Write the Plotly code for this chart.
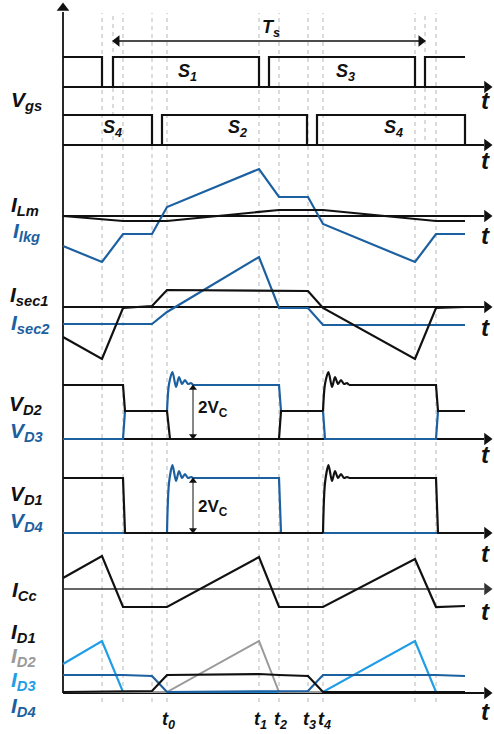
import plotly.graph_objects as go

# ---------------- data (time in px-like units from the vertical axis) ----------------
EVENTS = [39, 60, 89, 104, 196, 216, 245, 260, 352, 373]      # dashed guide lines
TOP_EVENTS = [50, 362]                                         # Ts limits (top only)
T_END = 402
TICK_TIMES = [104, 196, 216, 245, 260]
TICK_LABELS = ["t<sub>0</sub>", "t<sub>1</sub>", "t<sub>2</sub>", "t<sub>3</sub>", "t<sub>4</sub>"]

S13_T = [0, 39, 39, 50, 50, 196, 196, 206, 206, 352, 352, 362, 362, 402]
S13_V = [30, 30, 0, 0, 30, 30, 0, 0, 30, 30, 0, 0, 30, 30]
S24_T = [0, 89, 89, 99, 99, 244, 244, 254, 254, 402, 402]
S24_V = [30, 30, 0, 0, 30, 30, 0, 0, 30, 30, 0]
GATE_LABELS = ["S<sub>1</sub>", "S<sub>3</sub>", "S<sub>4</sub>", "S<sub>2</sub>", "S<sub>4</sub>"]
GATE_LABEL_T = [124, 282, 49, 174, 330]

ILM_T = [0, 60, 104, 216, 260, 373, 402]
ILM_V = [0, -5, -5, 6, 6, -5, -5]
ILKG_T = [0, 39, 60, 89, 104, 196, 216, 245, 260, 352, 373, 402]
ILKG_V = [-30, -46, -18, -18, 9, 47, 19, 19, -8, -46, -18, -18]

ISEC1_T = [0, 39, 60, 89, 104, 245, 260, 352, 373, 402]
ISEC1_V = [-30, -52, -1, 1, 17, 16, -1, -52, -1, 0]
ISEC2_T = [0, 89, 104, 196, 216, 245, 260, 402]
ISEC2_V = [-17, -17, -5, 50, -1, -1, -18, -18]

RING_A_T = [104, 106, 109.5, 113, 116, 119, 122, 125, 128, 130]
RING_B_T = [260, 262, 265.5, 269, 272, 275, 278, 281, 284, 286]
VD3_PRE_T, VD3_PRE_V = [0, 60, 62, 104], [0, 0, 28, 28]
VD3_RING_V = [28, 55, 67, 52, 62, 55, 59, 55, 56, 54]
VD3_POST_T, VD3_POST_V = [130, 216, 218, 260, 262, 373, 375, 402], [54, 54, 28, 28, 0, 0, 28, 28]
VD2_PRE_T, VD2_PRE_V = [0, 60, 62, 104, 107, 216, 218, 260], [54, 54, 28, 28, 0, 0, 28, 28]
VD2_RING_V = [28, 55, 67, 52, 62, 55, 59, 55, 56, 54]
VD2_POST_T, VD2_POST_V = [286, 373, 375, 402], [54, 54, 28, 28]

VD4_PRE_T, VD4_PRE_V = [0, 104], [0, 0]
VD4_RING_V = [0, 50, 68, 52, 62, 55, 59, 55, 56, 55]
VD4_POST_T, VD4_POST_V = [130, 216, 218, 402], [55, 55, 0, 0]
VD1_PRE_T, VD1_PRE_V = [0, 60, 62, 260], [55, 55, 0, 0]
VD1_RING_V = [0, 50, 68, 52, 62, 55, 59, 55, 56, 55]
VD1_POST_T, VD1_POST_V = [286, 373, 375, 402], [55, 55, 0, 0]
VC_ARROW_T = 130

ICC_T = [0, 39, 60, 104, 196, 216, 260, 352, 373, 402]
ICC_V = [11, 33, -18, -18, 32, -18, -18, 30, -18, -17]

ID1_T = [0, 89, 104, 196, 216, 245, 260, 402]
ID1_V = [1, 2, 18, 19, 18, 17, 1, 1]
ID2_T = [0, 104, 196, 216, 402]
ID2_V = [1, 1, 52, 1, 1]
ID3_T = [0, 39, 60, 260, 352, 373, 402]
ID3_V = [29, 52, 1, 1, 52, 1, 1]
ID4_T = [0, 60, 89, 104, 245, 260, 373, 402]
ID4_V = [18, 18, 17, 1, 2, 18, 18, 17]

# ---------------- layout helpers ----------------
W, H = 494, 734
X0 = 63
AX_END = 421          # end of time-axis shaft
BLACK = "#111111"
DBLUE = "#1c60a0"
LBLUE = "#1f9de6"
GREY = "#9a9a9a"
FONT = "Liberation Sans, Arial, sans-serif"

# panel name -> pixel row of its time axis
PANELS = {"g1": 87, "g2": 145, "ilk": 216, "isec": 307, "vd23": 439, "vd14": 533, "icc": 589, "id": 693}
names = list(PANELS)
axid = {n: ("y" if i == 0 else f"y{i+1}") for i, n in enumerate(names)}

def px(x):
    return x / W

def py(y):
    return 1 - y / H

fig = go.Figure()
LW = 2.2

def line(panel, t, v, color, shape="linear", width=LW):
    fig.add_trace(go.Scatter(x=t, y=v, mode="lines", yaxis=axid[panel],
                             line=dict(color=color, width=width, shape=shape, smoothing=0.8),
                             hoverinfo="skip", showlegend=False, cliponaxis=False))

def head(panel, t, v, symbol, color=BLACK, size=11):
    fig.add_trace(go.Scatter(x=[t], y=[v], mode="markers", yaxis=axid[panel],
                             marker=dict(symbol=symbol, size=size, color=color, line=dict(width=0)),
                             hoverinfo="skip", showlegend=False, cliponaxis=False))

def axis(panel, color=BLACK, width=1.8):
    line(panel, [0, AX_END], [0, 0], color, width=width)
    head(panel, AX_END + 3, 0, "triangle-right", color)

# vertical axis (in the first panel's units: value = 87 - pixel row)
line("g1", [0, 0], [PANELS["g1"] - 693, PANELS["g1"] - 12], BLACK, width=1.8)
head("g1", 0, PANELS["g1"] - 8, "triangle-up")
# Ts double arrow
line("g1", TOP_EVENTS, [PANELS["g1"] - 41] * 2, BLACK, width=1.5)
head("g1", TOP_EVENTS[0] + 4, PANELS["g1"] - 41, "triangle-left", size=10)
head("g1", TOP_EVENTS[1] - 4, PANELS["g1"] - 41, "triangle-right", size=10)

# gates
axis("g1"); line("g1", S13_T, S13_V, BLACK)
axis("g2"); line("g2", S24_T, S24_V, BLACK)
# ILm / Ilkg
axis("ilk")
line("ilk", ILKG_T, ILKG_V, DBLUE)
line("ilk", ILM_T, ILM_V, BLACK)
# Isec
axis("isec")
line("isec", ISEC2_T, ISEC2_V, DBLUE)
line("isec", ISEC1_T, ISEC1_V, BLACK)
# VD2 / VD3
axis("vd23")
line("vd23", VD3_PRE_T, VD3_PRE_V, DBLUE)
line("vd23", RING_A_T, VD3_RING_V, DBLUE, "spline")
line("vd23", VD3_POST_T, VD3_POST_V, DBLUE)
line("vd23", VD2_PRE_T, VD2_PRE_V, BLACK)
line("vd23", RING_B_T, VD2_RING_V, BLACK, "spline")
line("vd23", VD2_POST_T, VD2_POST_V, BLACK)
# VD1 / VD4
axis("vd14")
line("vd14", VD4_PRE_T, VD4_PRE_V, DBLUE)
line("vd14", RING_A_T, VD4_RING_V, DBLUE, "spline")
line("vd14", VD4_POST_T, VD4_POST_V, DBLUE)
line("vd14", VD1_PRE_T, VD1_PRE_V, BLACK)
line("vd14", RING_B_T, VD1_RING_V, BLACK, "spline")
line("vd14", VD1_POST_T, VD1_POST_V, BLACK)
# 2Vc arrows
for n, top in (("vd23", VD3_POST_V[0]), ("vd14", VD4_POST_V[0])):
    line(n, [VC_ARROW_T, VC_ARROW_T], [0, top], BLACK, width=1)
    head(n, VC_ARROW_T, top - 3, "triangle-up", size=7)
    head(n, VC_ARROW_T, 3, "triangle-down", size=7)
# ICc
axis("icc", "#333333", 1.3)
line("icc", ICC_T, ICC_V, BLACK)
# diode currents
axis("id")
line("id", ID3_T, ID3_V, LBLUE)
line("id", ID2_T, ID2_V, GREY, width=2)
line("id", ID4_T, ID4_V, DBLUE)
line("id", ID1_T, ID1_V, BLACK)

shapes = []
annotations = []

# dashed guide lines
for t in EVENTS:
    shapes.append(dict(type="line", xref="x", yref="paper", x0=t, x1=t, y0=py(702), y1=py(13),
                       line=dict(color="#c4c4c4", width=1.2, dash="4px,4px"), layer="below"))
for t in TOP_EVENTS:
    shapes.append(dict(type="line", xref="x", yref="paper", x0=t, x1=t, y0=py(140), y1=py(13),
                       line=dict(color="#c4c4c4", width=1.2, dash="4px,4px"), layer="below"))

def label(text, xpx, ypx, size, color=BLACK, italic=True, xref="paper"):
    annotations.append(dict(text=text, x=(xpx if xref == "x" else px(xpx)), y=py(ypx), xref=xref, yref="paper",
                            showarrow=False, xanchor="center", yanchor="middle",
                            font=dict(family=FONT, size=size, color=color, weight="bold",
                                      style="italic" if italic else "normal")))

# left labels
LS = 21
label("V<sub>gs</sub>", 26, 101, LS)
label("I<sub>Lm</sub>", 25, 206, LS)
label("I<sub>lkg</sub>", 26, 232, LS, DBLUE)
label("I<sub>sec1</sub>", 29, 296, LS)
label("I<sub>sec2</sub>", 30, 324, LS, DBLUE)
label("V<sub>D2</sub>", 26, 405, LS)
label("V<sub>D3</sub>", 26, 432, LS, DBLUE)
label("V<sub>D1</sub>", 26, 495, LS)
label("V<sub>D4</sub>", 26, 522, LS, DBLUE)
label("I<sub>Cc</sub>", 24, 591, LS)
label("I<sub>D1</sub>", 23, 633, LS)
label("I<sub>D2</sub>", 23, 657, LS, GREY)
label("I<sub>D3</sub>", 23, 681, LS, LBLUE)
label("I<sub>D4</sub>", 23, 707, LS, DBLUE)

# "t" axis labels
for ypix in (101, 161, 236, 328, 454, 553, 611, 711):
    label("t", 485, ypix, 24)

# Ts, gate labels
label("T<sub>s</sub>", 271, 29, 18)
for txt, t, row in zip(GATE_LABELS, GATE_LABEL_T, [72, 72, 128, 128, 128]):
    label(txt, t, row, 18, xref="x")
label("2V<sub>C</sub>", 213, 409, 17, italic=False)
label("2V<sub>C</sub>", 213, 508, 17, italic=False)

# time instant labels
for t, txt in zip(TICK_TIMES, TICK_LABELS):
    label(txt, t + 1, 720, 18, xref="x")

layout = dict(width=W, height=H, autosize=False, margin=dict(l=0, r=0, t=0, b=0, pad=0),
              plot_bgcolor="white", paper_bgcolor="white", showlegend=False,
              shapes=shapes, annotations=annotations,
              xaxis=dict(range=[-X0, W - X0], domain=[0, 1], visible=False, fixedrange=True))
for i, n in enumerate(names):
    key = "yaxis" if i == 0 else f"yaxis{i+1}"
    a = PANELS[n]
    cfg = dict(range=[a - H, a], domain=[0, 1], visible=False, fixedrange=True, anchor="x")
    if i > 0:
        cfg["overlaying"] = "y"
    layout[key] = cfg
fig.update_layout(**layout)
fig.write_html("out.html", config={"displayModeBar": False},
               post_script="document.body.style.margin='0px';document.body.style.overflow='hidden';")
